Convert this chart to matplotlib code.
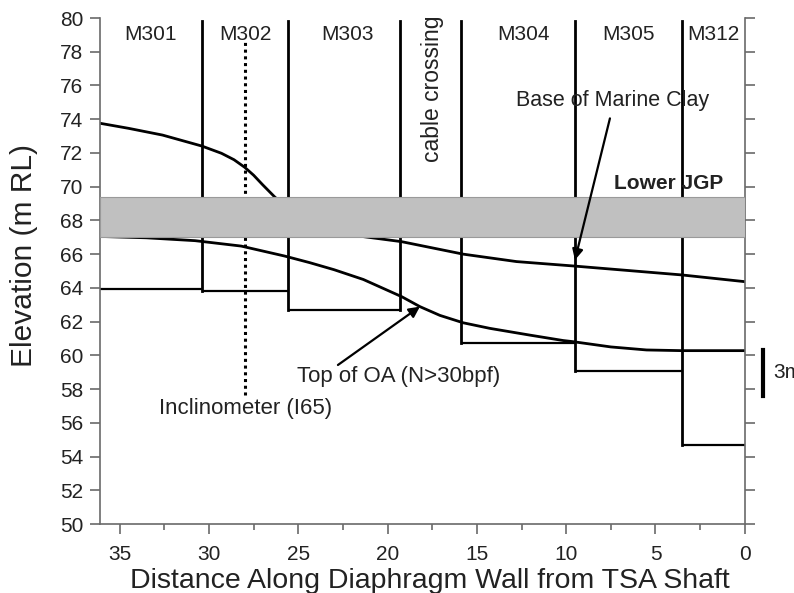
import numpy as np
import matplotlib
matplotlib.use("Agg")
import matplotlib.pyplot as plt

# panel boundaries (distance from TSA shaft, m) and toe levels (m RL)
PANEL_NAMES = ['M301', 'M302', 'M303', 'M304', 'M305', 'M312']
PANEL_LABEL_X = [33.25, 27.98, 22.24, 12.37, 6.53, 1.74]
BOUNDARY_X = [30.4, 25.6, 19.3, 15.9, 9.5, 3.5]
BOUNDARY_BOTTOM = [63.82, 62.7, 62.7, 60.75, 59.1, 54.7]
TOE_LEFT = [36.1, 30.4, 25.6, 15.9, 9.5, 3.5]
TOE_RIGHT = [30.4, 25.6, 19.3, 9.5, 3.5, 0.0]
TOE_LEVEL = [63.92, 63.82, 62.7, 60.75, 59.1, 54.7]

# base of marine clay (part between 26.3 and 21.4 is behind the JGP band)
CLAY_X = [36.1, 34.5, 32.6, 30.4, 29.3, 28.6, 28.0, 27.5, 27.0, 26.3, 24.5, 23.0, 21.36,
          19.21, 15.76, 12.78, 9.6, 3.54, 0.0]
CLAY_Y = [73.76, 73.46, 73.06, 72.41, 71.98, 71.6, 71.15, 70.68, 70.12, 69.37, 67.9, 67.3, 67.04,
          66.74, 66.0, 65.56, 65.3, 64.77, 64.37]

# top of OA (N>30bpf)
OA_X = [36.1, 33.5, 30.78, 28.2, 25.77, 24.37, 23.0, 21.36, 19.21, 18.19, 17.07, 15.76,
        14.27, 12.03, 10.17, 9.6, 7.5, 5.5, 3.54, 0.0]
OA_Y = [67.05, 66.97, 66.8, 66.48, 65.89, 65.5, 65.08, 64.5, 63.48, 62.89, 62.37, 61.93,
        61.6, 61.2, 60.88, 60.81, 60.5, 60.32, 60.28, 60.28]

# lower JGP layer
JGP_BOTTOM = 67.0
JGP_TOP = 69.4

INCLINOMETER_X = 28.0
INCLINOMETER_Y = [57.65, 78.6]

XLIM = (36.1, 0)
YLIM = (50, 80)

plt.rcParams['font.family'] = ['Liberation Sans', 'DejaVu Sans']

fig = plt.figure(figsize=(7.94, 5.93), dpi=100)
ax = fig.add_axes([0.126, 0.1163, 0.812, 0.8533])

spine_col = '#6a6a6a'
txt_col = '#222222'

# curves
ax.plot(CLAY_X, CLAY_Y, color='black', lw=2.0, zorder=2, solid_joinstyle='round')
ax.plot(OA_X, OA_Y, color='black', lw=2.0, zorder=2, solid_joinstyle='round')

# panel boundaries and toe levels
for bx, bb in zip(BOUNDARY_X, BOUNDARY_BOTTOM):
    ax.plot([bx, bx], [79.8, bb], color='black', lw=2.0, zorder=2)
ax.hlines(TOE_LEVEL, TOE_LEFT, TOE_RIGHT, color='black', lw=1.6, zorder=2)

# inclinometer
ax.plot([INCLINOMETER_X, INCLINOMETER_X], INCLINOMETER_Y, color='black',
        lw=2.2, ls=(0, (1, 1.2)), zorder=2)

# JGP band
ax.axhspan(JGP_BOTTOM, JGP_TOP, facecolor='#c0c0c0', edgecolor='#9a9a9a',
           lw=0.8, zorder=3)

# labels
for name, lx in zip(PANEL_NAMES, PANEL_LABEL_X):
    ax.text(lx, 79.0, name, ha='center', va='center', fontsize=15, color=txt_col, zorder=4)
ax.text(17.46, 75.8, 'cable crossing', rotation=90, ha='center', va='center',
        fontsize=16.5, color=txt_col, zorder=4, clip_on=False)
ax.text(7.39, 75.14, 'Base of Marine Clay', ha='center', va='center',
        fontsize=15.5, color=txt_col, zorder=4)
ax.text(4.25, 70.2, 'Lower JGP', ha='center', va='center', fontsize=15,
        fontweight='bold', color=txt_col, zorder=4)
ax.text(25.07, 58.74, 'Top of OA (N>30bpf)', ha='left', va='center',
        fontsize=16, color=txt_col, zorder=4)
ax.text(32.79, 56.86, 'Inclinometer (I65)', ha='left', va='center',
        fontsize=16, color=txt_col, zorder=4)

ax.annotate('', xy=(9.51, 65.65), xytext=(7.55, 74.05),
            arrowprops=dict(arrowstyle='-|>', color='black', lw=1.6,
                            mutation_scale=16, shrinkA=0, shrinkB=0), zorder=5)
ax.annotate('', xy=(18.19, 62.89), xytext=(22.78, 59.43),
            arrowprops=dict(arrowstyle='-|>', color='black', lw=1.6,
                            mutation_scale=16, shrinkA=0, shrinkB=0), zorder=5)

# 3 m scale bar outside the axes
ax.plot([-1.02, -1.02], [57.58, 60.34], color='black', lw=3, clip_on=False)
ax.text(-1.59, 58.96, '3m', ha='left', va='center', fontsize=15,
        color=txt_col, clip_on=False)

# --- axes ---
ax.set_xlim(*XLIM)
ax.set_ylim(*YLIM)
ax.set_xticks([35, 30, 25, 20, 15, 10, 5, 0])
ax.set_xticks(np.arange(32.5, 0, -5), minor=True)
ax.set_yticks(np.arange(50, 81, 2))
ax.spines['top'].set_visible(False)
for side in ['left', 'right', 'bottom']:
    ax.spines[side].set_color(spine_col)
    ax.spines[side].set_linewidth(1.2)
ax.tick_params(axis='both', which='major', direction='out', length=7, width=1.2,
               color=spine_col, labelsize=15, labelcolor=txt_col)
ax.tick_params(axis='x', which='major', pad=8)
ax.tick_params(axis='y', which='major', pad=5)
ax.tick_params(axis='x', which='minor', direction='out', length=4, width=1.2, color=spine_col)
ax.tick_params(axis='y', right=True, labelright=False)

xl = ax.set_xlabel('Distance Along Diaphragm Wall from TSA Shaft', fontsize=20.5,
                   color=txt_col)
xl.set_va('center')
ax.xaxis.set_label_coords(0.512, -0.113)
yl = ax.set_ylabel('Elevation (m RL)', fontsize=21.5, color=txt_col)
yl.set_va('center')
ax.yaxis.set_label_coords(-0.1186, 0.53)

fig.savefig('out.png', dpi=100)
